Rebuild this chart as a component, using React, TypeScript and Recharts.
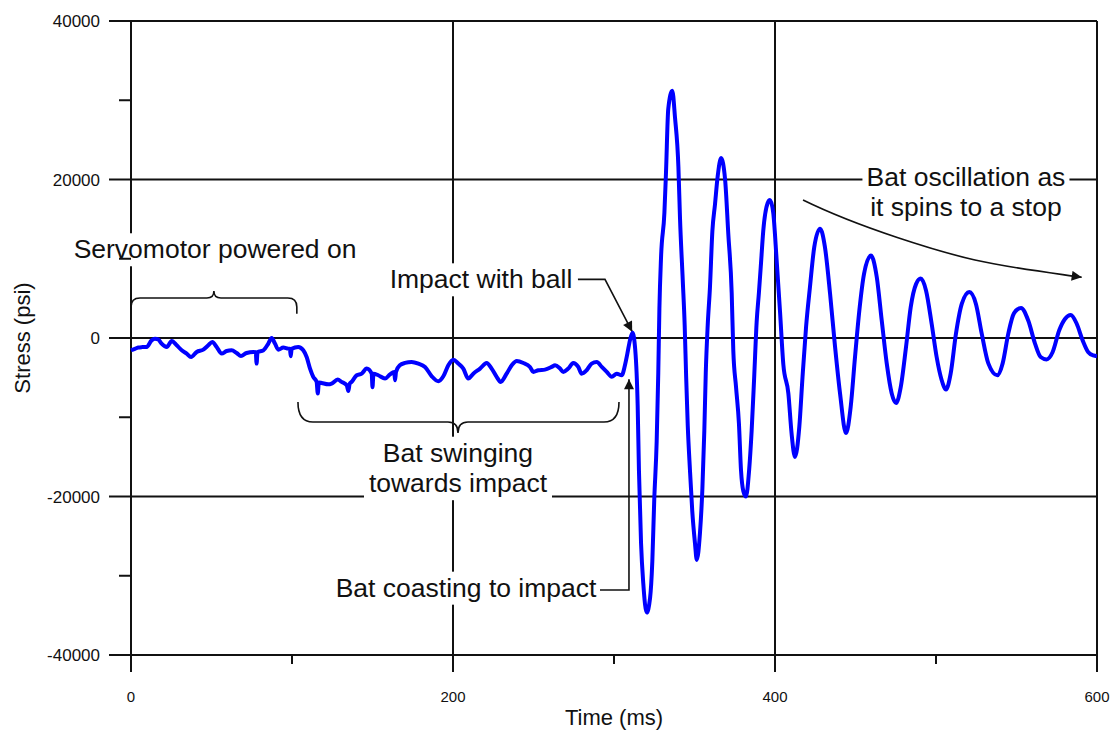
import React from "react";
import { LineChart, Line, XAxis, YAxis, CartesianGrid } from "recharts";

const FONT = "Arial, 'Liberation Sans', Helvetica, sans-serif";
const INK = "#111";

// Bending stress trace, split by phase (time in ms, stress in psi)
const poweredTime = [
  0, 2, 4.5, 7, 9.7, 12.8, 14.9, 17, 19, 22.2, 25.3, 28.4, 31.5, 34.6, 37.3,
  40.8, 44.9, 48, 50.5, 53.2, 56.3, 59.4, 62.5, 65.6, 68.3, 71.8, 76, 77.5, 78,
  78.6, 82.2, 85.3, 87.4, 89.4, 91.5, 94.6, 97.7, 98.7, 99.2, 99.8, 103.9, 107,
];
const poweredStress = [
  -1550, -1400, -1200, -1150, -1130, -300, -80, -200, -700, -1130, -380, -920,
  -1550, -1970, -2400, -1760, -1470, -920, -500, -1130, -1970, -1640, -1550,
  -1890, -2270, -1890, -1760, -1800, -3230, -1800, -1550, -700, 0, -700, -1470,
  -1200, -1340, -1350, -2300, -1350, -1130, -1550,
];

const swingTime = [
  109.1, 111.2, 113.2, 115.3, 116, 116.7, 118.4, 122.6, 124.6, 128.4, 130.8,
  134, 135, 135.8, 137, 140.2, 143.3, 146.4, 149.5, 150, 150.6, 153.6, 157.8,
  160.9, 163.5, 164, 164.6, 167, 170.2, 174.3, 178.5, 182.6, 186.8, 190.9, 194,
  197.1, 200.2, 203.3, 206.4, 209.5, 212.6, 216.8, 220.9, 224, 227.1, 229.6,
  233.3, 236.5, 239.6, 243.7, 247.8, 249.9, 253, 257.1, 261.3, 263.4, 266.5,
  268.5, 271.6, 274.7, 277.8, 279.9, 283, 286.1, 289.3, 292.4, 295.5, 298.6,
  301.7, 304.8, 306.8, 308.3, 309.9,
];
const swingStress = [
  -2400, -3860, -4900, -5540, -7000, -5600, -5670, -5840, -5750, -5250, -5540,
  -5960, -6680, -5800, -5540, -4700, -4500, -3860, -4500, -6200, -4500, -4700,
  -5120, -4580, -4280, -5330, -4280, -3440, -3150, -3020, -3230, -3650, -4830,
  -5460, -4830, -3440, -2730, -3230, -3860, -5120, -4500, -3860, -3150, -3860,
  -4900, -5540, -4500, -3440, -2900, -3150, -3650, -4280, -4070, -3990, -3650,
  -3440, -3860, -4280, -3860, -3150, -3650, -4500, -4070, -3230, -3020, -3650,
  -4280, -4900, -4500, -4700, -3440, -1970, -300,
];

const ringTime = [
  311.5, 313.2, 314.7, 315.5, 316.8, 318.2, 320.3, 322.4, 323.8, 325, 326.5,
  327.5, 328.2, 329.2, 331.3, 332.3, 333.7, 336.2, 337.9, 340, 341, 342.7,
  343.9, 344.8, 345.8, 347.2, 348.6, 350.3, 351.4, 353.4, 354.9, 356.1, 357,
  358.2, 359.6, 361.1, 362.7, 364.4, 366.5, 369, 371, 373.1, 374.1, 375.8,
  377.6, 378.9, 380.3, 382, 383.9, 385.5, 387.1, 388.6, 390, 391.3, 392.7,
  395.4, 396.9, 398.9, 401, 403.1, 405.2, 408.3, 410.3, 412.4, 415.1, 417.1,
  419.3, 421.7, 424.4, 428, 431, 434.2, 437.3, 440.4, 444.1, 447, 449.7, 452.4,
  455.3, 459.6, 463.2, 466.3, 469.4, 472.5, 475.2, 478.1, 481.4, 484.3, 487.6,
  490.5, 493.8, 497.3, 500.4, 503.5, 506.2, 509.1, 512.4, 516, 520.7, 524.8,
  528.4, 532.5, 538.1, 541.4, 544.9, 548.4, 552.8, 557.3, 561.5, 565, 568.7,
  572.4, 576.6, 580.1, 583.7, 587.4, 591.1, 594.6, 597.7, 600,
];
const ringStress = [
  650, -1500, -8500, -16750, -25900, -31000, -34650, -32800, -28200, -20400,
  -13100, -4400, 3700, 10100, 15800, 20900, 28900, 31200, 27800, 21600, 15100,
  7300, 1600, -4800, -11000, -16750, -21800, -25900, -28000, -24600, -19000,
  -11700, -4400, 1600, 6400, 13500, 16800, 20400, 22700, 20000, 13100, 5700,
  -1600, -6200, -10800, -16750, -19300, -20000, -16750, -11700, -4800, 2000,
  5700, 9400, 13500, 17000, 17400, 15800, 9900, 3400, -3400, -7000, -12050,
  -15000, -11200, -4900, 1400, 6400, 11500, 13800, 11500, 5600, -1100, -7000,
  -12000, -8700, -2400, 3500, 8100, 10400, 7700, 2200, -3200, -7000, -8200,
  -6200, -1100, 3900, 6800, 7500, 6000, 1800, -2400, -5300, -6500, -4500, 550,
  4300, 5800, 4300, 550, -3200, -4700, -3200, 550, 3100, 3800, 2200, -700,
  -2400, -2700, -1800, 1000, 2400, 2900, 1800, -300, -1800, -2200, -2300,
];

const xTicks = [0, 100, 200, 300, 400, 500, 600];
const yTicks = [-40000, -30000, -20000, -10000, 0, 10000, 20000, 30000, 40000];
// grid lines, including the frame edges
const xGrid = [0, 200, 400, 600];
const yGrid = [-40000, -20000, 0, 20000, 40000];

const trace = [
  ...poweredTime.map((t, i) => ({ t, stress: poweredStress[i] })),
  ...swingTime.map((t, i) => ({ t, stress: swingStress[i] })),
  ...ringTime.map((t, i) => ({ t, stress: ringStress[i] })),
];

const CHART_W = 1118;
const CHART_H = 730;
const Y_AXIS_W = 131;
const X_AXIS_H = 75;
const MARGIN = { top: 21, right: 21, bottom: 0, left: 0 };
const PLOT = {
  left: MARGIN.left + Y_AXIS_W,
  top: MARGIN.top,
  width: CHART_W - MARGIN.left - Y_AXIS_W - MARGIN.right,
  height: CHART_H - MARGIN.top - X_AXIS_H - MARGIN.bottom,
};

// data -> pixel, for the callouts drawn on top of the plot
const px = (t: number) => PLOT.left + (t / 600) * PLOT.width;
const py = (v: number) => PLOT.top + ((40000 - v) / 80000) * PLOT.height;

const YTick = ({ x, y, payload }: any) => {
  const major = payload.value % 20000 === 0;
  return (
    <g>
      <line x1={x - (major ? 22 : 12)} x2={x} y1={y} y2={y} stroke={INK} strokeWidth={2} />
      {major && (
        <text x={x - 31} y={y} dy="0.36em" textAnchor="end" fontSize={17} fontFamily={FONT} fill={INK}>
          {payload.value}
        </text>
      )}
    </g>
  );
};

const XTick = ({ x, y, payload }: any) => {
  const major = payload.value % 200 === 0;
  return (
    <g>
      <line x1={x} x2={x} y1={y} y2={y + (major ? 17 : 9)} stroke={INK} strokeWidth={2} />
      {major && (
        <text x={x} y={y + 47} textAnchor="middle" fontSize={15} fontFamily={FONT} fill={INK}>
          {payload.value}
        </text>
      )}
    </g>
  );
};

// text on a white card so the grid breaks around it
const Note = ({ t, v, lines, width }: { t: number; v: number; lines: string[]; width: number }) => {
  const cx = px(t);
  const base = py(v);
  const lh = 30.5;
  const top = base - 25;
  const bottom = base + (lines.length - 1) * lh + 8;
  return (
    <g>
      <rect x={cx - width / 2} y={top} width={width} height={bottom - top} fill="#fff" />
      {lines.map((s, i) => (
        <text key={i} x={cx} y={base + i * lh} textAnchor="middle" fontSize={26.5} fontFamily={FONT} fill={INK}>
          {s}
        </text>
      ))}
    </g>
  );
};

const Callouts = () => {
  // brace over the powered-on stretch
  const a0 = px(0), a1 = px(103), am = px(51.5);
  const aTop = py(5050), aLeg = py(3050);
  const poweredBrace = `M${a0},${aLeg} L${a0},${aTop + 9} Q${a0},${aTop} ${a0 + 9},${aTop} L${am - 7},${aTop} Q${am},${aTop} ${am},${aTop - 7} Q${am},${aTop} ${am + 7},${aTop} L${a1 - 9},${aTop} Q${a1},${aTop} ${a1},${aTop + 9} L${a1},${aLeg}`;

  // brace under the swing
  const b0 = px(103.7), b1 = px(303.1), bm = px(203.1);
  const bLine = py(-10600), bTip = py(-8075), bCusp = py(-11990);
  const swingBrace = `M${b0},${bTip} Q${b0},${bLine} ${b0 + 15},${bLine} L${bm - 10},${bLine} Q${bm},${bLine} ${bm},${bCusp} Q${bm},${bLine} ${bm + 10},${bLine} L${b1 - 15},${bLine} Q${b1},${bLine} ${b1},${bTip}`;

  const impactLeader = `M${px(277.6)},${py(7400)} L${px(294.4)},${py(7400)} L${px(311.3)},${py(800)}`;
  const coastLeader = `M${px(291.3)},${py(-31800)} L${px(309.3)},${py(-31800)} L${px(309.3)},${py(-5200)}`;
  const decayArrow = `M${px(417.4)},${py(17410)} C${px(452.8)},${py(13880)} ${px(502.5)},${py(10850)} ${px(524.2)},${py(9840)} S${px(577)},${py(8075)} ${px(590.5)},${py(7660)}`;

  return (
    <g>
      <defs>
        <marker
          id="tip"
          viewBox="0 0 10 10"
          refX="10"
          refY="5"
          markerWidth="15"
          markerHeight="10"
          markerUnits="userSpaceOnUse"
          orient="auto"
        >
          <path d="M0,0 L10,5 L0,10 z" fill={INK} />
        </marker>
      </defs>

      <Note t={52.2} v={10060} lines={["Servomotor powered on"]} width={290} />
      <Note t={217.4} v={6270} lines={["Impact with ball"]} width={190} />
      <Note t={203.1} v={-15610} lines={["Bat swinging", "towards impact"]} width={188} />
      <Note t={208.1} v={-32640} lines={["Bat coasting to impact"]} width={272} />
      <Note t={518.6} v={19220} lines={["Bat oscillation as", "it spins to a stop"]} width={207} />

      <path d={poweredBrace} fill="none" stroke={INK} strokeWidth={1.6} />
      <path d={swingBrace} fill="none" stroke={INK} strokeWidth={1.6} />
      <path d={impactLeader} fill="none" stroke={INK} strokeWidth={1.6} markerEnd="url(#tip)" />
      <path d={coastLeader} fill="none" stroke={INK} strokeWidth={1.6} markerEnd="url(#tip)" />
      <path d={decayArrow} fill="none" stroke={INK} strokeWidth={1.6} markerEnd="url(#tip)" />

      <text x={PLOT.left + PLOT.width / 2} y={725} textAnchor="middle" fontSize={22} fontFamily={FONT} fill={INK}>
        Time (ms)
      </text>
      <text
        x={22}
        y={PLOT.top + PLOT.height / 2}
        dy="0.35em"
        textAnchor="middle"
        fontSize={22}
        fontFamily={FONT}
        fill={INK}
        transform={`rotate(-90, 22, ${PLOT.top + PLOT.height / 2})`}
      >
        Stress (psi)
      </text>
    </g>
  );
};

export default function App() {
  return (
    <div
      style={{
        position: "absolute",
        left: 0,
        top: 0,
        width: CHART_W,
        height: CHART_H,
        background: "#fff",
      }}
    >
      <LineChart width={CHART_W} height={CHART_H} data={trace} margin={MARGIN}>
        <CartesianGrid
          horizontalValues={yGrid}
          verticalValues={xGrid}
          stroke={INK}
          strokeWidth={2}
        />
        <XAxis
          dataKey="t"
          type="number"
          domain={[0, 600]}
          ticks={xTicks}
          interval={0}
          height={X_AXIS_H}
          axisLine={false}
          tickLine={false}
          tickSize={0}
          tickMargin={0}
          tick={<XTick />}
        />
        <YAxis
          type="number"
          domain={[-40000, 40000]}
          ticks={yTicks}
          interval={0}
          width={Y_AXIS_W}
          axisLine={false}
          tickLine={false}
          tickSize={0}
          tickMargin={0}
          tick={<YTick />}
          allowDataOverflow
        />
        <Line
          type="monotone"
          dataKey="stress"
          stroke="#0000ff"
          strokeWidth={4}
          dot={false}
          isAnimationActive={false}
        />
        <Callouts />
      </LineChart>
    </div>
  );
}
